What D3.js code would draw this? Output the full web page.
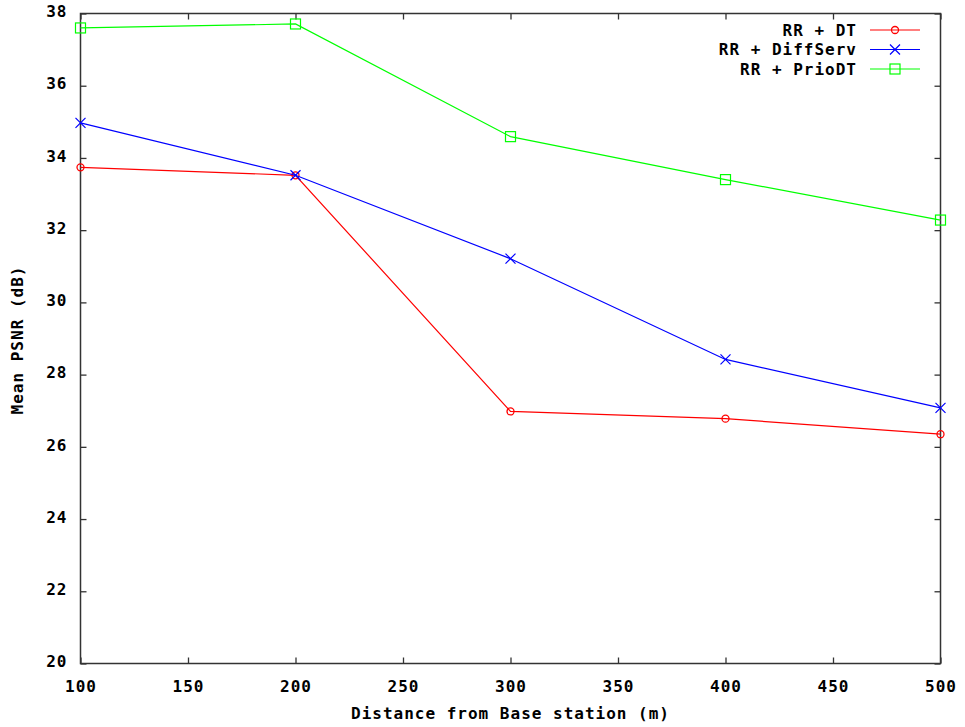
<!DOCTYPE html>
<html><head><meta charset="utf-8">
<script src="https://cdn.jsdelivr.net/npm/d3@7"></script>
<style>
body{margin:0;background:#fff;}
text{font-family:"DejaVu Sans Mono",monospace;font-weight:bold;font-size:16px;letter-spacing:1px;fill:#000;}
</style></head><body>
<svg id="c" width="965" height="727"></svg>
<script>
const distances = [100, 200, 300, 400, 500];
const seriesNames = ["RR + DT", "RR + DiffServ", "RR + PrioDT"];
const rrDT = [33.74, 33.52, 26.98, 26.78, 26.35];
const rrDiffServ = [34.97, 33.52, 31.21, 28.42, 27.08];
const rrPrioDT = [37.60, 37.71, 34.59, 33.40, 32.28];
const xTicks = [100, 150, 200, 250, 300, 350, 400, 450, 500];
const yTicks = [20, 22, 24, 26, 28, 30, 32, 34, 36, 38];
const colors = ["#ff0000", "#0000ff", "#00ff00"];
const markers = ["circle", "cross", "square"];

const svg = d3.select("#c");
const L = 80.5, R = 940.5, T = 13.5, B = 663.5;
const x = d3.scaleLinear().domain([100, 500]).range([L, R]);
const y = d3.scaleLinear().domain([20, 38]).range([B, T]);

const g = svg.append("g");
// ticks inward, mirrored
const tl = 6;
const axisCol = "#333";
g.append("g").attr("transform", `translate(0,${B})`)
  .call(d3.axisBottom(x).tickValues(xTicks).tickSizeInner(-tl).tickSizeOuter(0).tickPadding(14))
  .call(s => { s.select(".domain").remove(); s.selectAll("line").attr("stroke", axisCol).attr("stroke-width", 1.3); s.selectAll("text").attr("dy", "0.9em"); });
g.append("g").attr("transform", `translate(0,${T})`)
  .call(d3.axisTop(x).tickValues(xTicks).tickSizeInner(-tl).tickSizeOuter(0).tickFormat(""))
  .call(s => { s.select(".domain").remove(); s.selectAll("line").attr("stroke", axisCol).attr("stroke-width", 1.3); });
g.append("g").attr("transform", `translate(${L},0)`)
  .call(d3.axisLeft(y).tickValues(yTicks).tickSizeInner(-tl).tickSizeOuter(0).tickPadding(13))
  .call(s => { s.select(".domain").remove(); s.selectAll("line").attr("stroke", axisCol).attr("stroke-width", 1.3); s.selectAll("text").attr("dy", "0.2em"); });
g.append("g").attr("transform", `translate(${R},0)`)
  .call(d3.axisRight(y).tickValues(yTicks).tickSizeInner(-tl).tickSizeOuter(0).tickFormat(""))
  .call(s => { s.select(".domain").remove(); s.selectAll("line").attr("stroke", axisCol).attr("stroke-width", 1.3); });
svg.selectAll(".tick text").style("font-family", "DejaVu Sans Mono").style("font-size", "16px").style("font-weight", "bold").attr("fill", "#000");

g.append("rect").attr("x", L).attr("y", T).attr("width", R - L).attr("height", B - T)
  .attr("fill", "none").attr("stroke", axisCol).attr("stroke-width", 1.5);

// axis labels
svg.append("text").attr("x", (L + R) / 2).attr("y", 719).attr("text-anchor", "middle").text("Distance from Base station (m)");
svg.append("text").attr("transform", "translate(23,340) rotate(-90)").attr("text-anchor", "middle").text("Mean PSNR (dB)");

function drawMarker(sel, type, color) {
  if (type === "circle") {
    sel.append("circle").attr("r", 3.5).attr("fill", "none").attr("stroke", color).attr("stroke-width", 1.3);
  } else if (type === "cross") {
    sel.append("path").attr("d", "M-5,-5L5,5M-5,5L5,-5").attr("stroke", color).attr("stroke-width", 1.2).attr("fill", "none");
  } else {
    sel.append("rect").attr("x", -5).attr("y", -5).attr("width", 10).attr("height", 10).attr("fill", "none").attr("stroke", color).attr("stroke-width", 1.2);
  }
}

const allSeries = [rrDT, rrDiffServ, rrPrioDT];
const line = d3.line().x((d, i) => x(distances[i])).y(d => y(d));
allSeries.forEach((vals, si) => {
  g.append("path").datum(vals).attr("d", line).attr("fill", "none").attr("stroke", colors[si]).attr("stroke-width", 1.2);
  vals.forEach((v, i) => {
    const m = g.append("g").attr("transform", `translate(${x(distances[i])},${y(v)})`);
    drawMarker(m, markers[si], colors[si]);
  });
});

// legend
const legY = [30, 49.5, 69];
seriesNames.forEach((n, i) => {
  const lg = svg.append("g").attr("transform", `translate(0,${legY[i]})`);
  lg.append("text").attr("x", 857).attr("y", 0).attr("dy", "0.35em").attr("text-anchor", "end").text(n);
  lg.append("line").attr("x1", 870).attr("x2", 920).attr("y1", 0).attr("y2", 0).attr("stroke", colors[i]).attr("stroke-width", 1.2);
  const m = lg.append("g").attr("transform", "translate(895,0)");
  drawMarker(m, markers[i], colors[i]);
});
</script></body></html>
